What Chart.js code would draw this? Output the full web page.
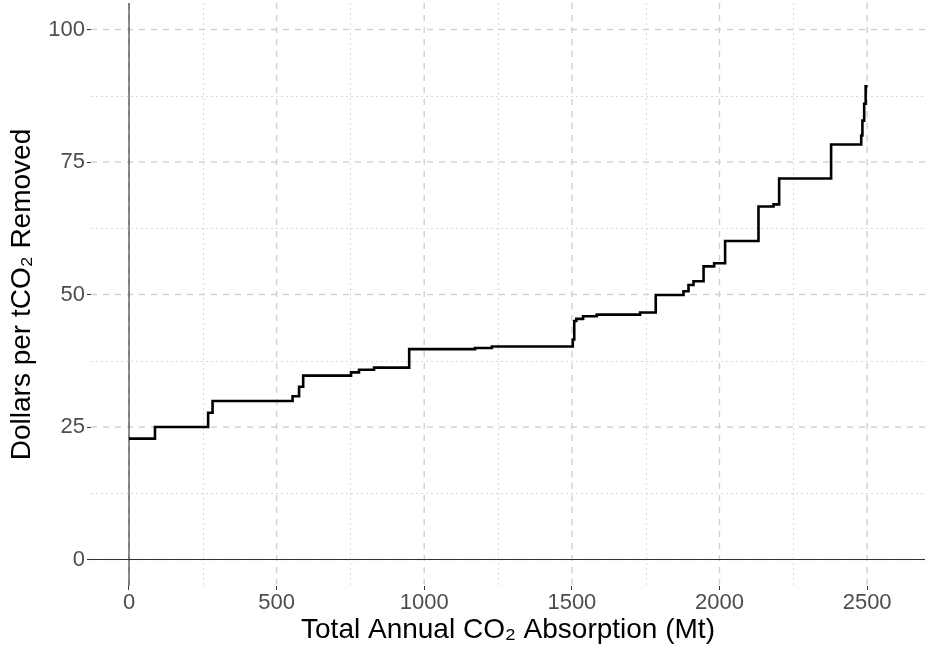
<!DOCTYPE html>
<html>
<head>
<meta charset="utf-8">
<title>Cost curve</title>
<script src="https://cdn.jsdelivr.net/npm/chart.js@4.4.1/dist/chart.umd.min.js"></script>
<style>
    html, body { margin: 0; padding: 0; background: #fff; }
    #wrap { width: 928px; height: 649px; }
</style>
</head>
<body>
<div id="wrap"><canvas id="myChart" width="928" height="649"></canvas></div>
<script>
// cumulative absorption (Mt) where each cost step starts, last entry is the end of the curve
const absorption = [0, 88, 268, 283, 554, 576, 590, 752, 779, 830, 949, 1172, 1229, 1503, 1508, 1515,
    1538, 1584, 1731, 1784, 1878, 1895, 1912, 1946, 1982, 2019, 2132, 2183, 2202, 2378, 2480, 2484,
    2490, 2495, 2502];
// dollars per tCO2 removed for each step
const cost = [22.8, 25.0, 27.7, 29.9, 30.8, 32.6, 34.7, 35.3, 35.8, 36.2, 39.7, 39.9, 40.2, 41.5, 45.0, 45.4,
    45.9, 46.2, 46.6, 49.9, 50.6, 51.8, 52.5, 55.3, 55.9, 60.1, 66.6, 67.0, 71.9, 78.3, 80.0, 82.8,
    86.0, 89.3, 89.3];

const xTicks = [0, 500, 1000, 1500, 2000, 2500];
const xMinor = [250, 750, 1250, 1750, 2250];
const yTicks = [0, 25, 50, 75, 100];
const yMinor = [12.5, 37.5, 62.5, 87.5];

const points = absorption.map((x, i) => ({ x: x, y: cost[i] }));

const tickFont = { family: "'Liberation Sans', Arial, sans-serif", size: 22 };
const titleFont = { family: "'Liberation Sans', Arial, sans-serif", size: 28 };

// background grid (dashed major, dotted minor) plus the zero lines
const gridPlugin = {
    id: "ggGrid",
    beforeDatasetsDraw(chart) {
        const ctx = chart.ctx;
        const area = chart.chartArea;
        const xs = chart.scales.x;
        const ys = chart.scales.y;
        ctx.save();
        ctx.lineCap = "butt";

        ctx.strokeStyle = "#d9d9d9";
        ctx.lineWidth = 1;
        ctx.setLineDash([2, 3]);
        xMinor.forEach(v => {
            const px = Math.round(xs.getPixelForValue(v)) + 0.5;
            ctx.beginPath(); ctx.moveTo(px, area.top); ctx.lineTo(px, area.bottom); ctx.stroke();
        });
        yMinor.forEach(v => {
            const py = Math.round(ys.getPixelForValue(v)) + 0.5;
            ctx.beginPath(); ctx.moveTo(area.left, py); ctx.lineTo(area.right, py); ctx.stroke();
        });

        ctx.strokeStyle = "#d0d0d0";
        ctx.lineWidth = 1.4;
        ctx.setLineDash([6, 6]);
        xTicks.forEach(v => {
            const px = xs.getPixelForValue(v);
            ctx.beginPath(); ctx.moveTo(px, area.top); ctx.lineTo(px, area.bottom); ctx.stroke();
        });
        yTicks.forEach(v => {
            const py = ys.getPixelForValue(v);
            ctx.beginPath(); ctx.moveTo(area.left, py); ctx.lineTo(area.right, py); ctx.stroke();
        });

        // zero lines
        ctx.setLineDash([]);
        ctx.strokeStyle = "#333";
        ctx.lineWidth = 1.1;
        const x0 = xs.getPixelForValue(0);
        const y0 = ys.getPixelForValue(0);
        ctx.beginPath(); ctx.moveTo(area.left, y0); ctx.lineTo(area.right, y0); ctx.stroke();
        ctx.beginPath(); ctx.moveTo(x0, area.top); ctx.lineTo(x0, area.bottom); ctx.stroke();
        ctx.restore();
    }
};

const ctx = document.getElementById("myChart").getContext("2d");
const myChart = new Chart(ctx, {
    type: "line",
    data: {
        datasets: [{
            data: points,
            stepped: "before",
            borderColor: "#000",
            borderWidth: 2.6,
            pointRadius: 0,
            fill: false
        }]
    },
    options: {
        responsive: false,
        animation: false,
        layout: { padding: { left: 4, right: 3, top: 3, bottom: 0 } },
        plugins: {
            legend: { display: false },
            tooltip: { enabled: false }
        },
        scales: {
            x: {
                type: "linear",
                min: -128.7,
                max: 2696,
                afterBuildTicks: (scale) => { scale.ticks = xTicks.map(v => ({ value: v })); },
                afterFit: (scale) => {
                    scale.height = 63;
                    scale.paddingLeft = 0;
                    scale.paddingRight = 0;
                },
                ticks: {
                    font: tickFont, color: "#4d4d4d", padding: 0, maxRotation: 0,
                    callback: (v) => String(v)
                },
                grid: { color: "transparent", drawTicks: true, tickLength: 4, tickColor: "#333", tickWidth: 1 },
                border: { display: false },
                title: {
                    display: true,
                    text: "Total Annual CO\u2082 Absorption (Mt)",
                    font: titleFont,
                    color: "#000",
                    padding: { top: 0, bottom: 2 }
                }
            },
            y: {
                type: "linear",
                min: -5,
                max: 105,
                afterBuildTicks: (scale) => { scale.ticks = yTicks.map(v => ({ value: v })); },
                afterFit: (scale) => {
                    scale.width = 87;
                    scale.paddingTop = 0;
                    scale.paddingBottom = 0;
                },
                ticks: {
                    font: tickFont, color: "#4d4d4d", padding: 2,
                    callback: (v) => String(v)
                },
                grid: { color: "transparent", drawTicks: true, tickLength: 4, tickColor: "#333", tickWidth: 1 },
                border: { display: false },
                title: {
                    display: true,
                    text: "Dollars per tCO\u2082 Removed",
                    font: titleFont,
                    color: "#000",
                    padding: { top: 1, bottom: 0 }
                }
            }
        }
    },
    plugins: [gridPlugin]
});
</script>
</body>
</html>
